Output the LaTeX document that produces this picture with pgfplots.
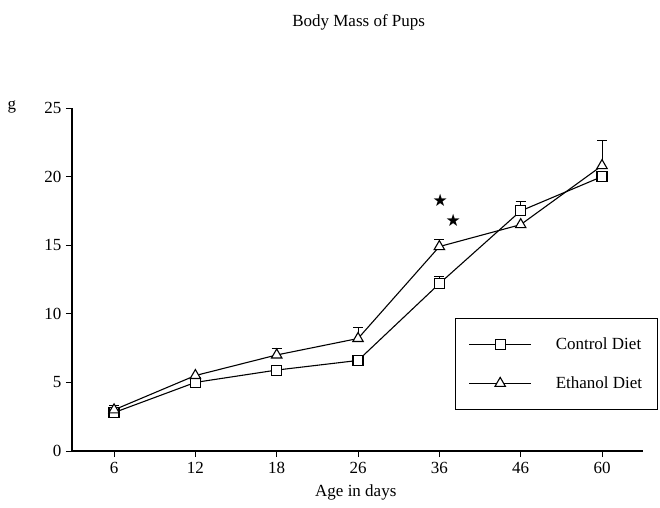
\documentclass[border=0pt]{standalone}
\usepackage{fontspec}
\setmainfont{Liberation Serif}
\newfontfamily\dejavu{DejaVu Sans}
\usepackage{pgfplots}
\pgfplotsset{compat=1.18}

\newcommand{\bigfont}{\fontsize{17}{20}\selectfont}

\begin{document}
\begin{tikzpicture}
\useasboundingbox (-72pt,-56pt) rectangle (588pt,451pt);
\begin{axis}[
    at={(0pt,0pt)}, anchor=south west,
    scale only axis,
    width=571pt, height=343pt,
    axis lines=left,
    axis line style={line width=1.6pt, -},
    xmin=-0.517, xmax=6.504,
    ymin=0, ymax=25,
    xtick={0,1,2,3,4,5,6},
    xticklabels={6,12,18,26,36,46,60},
    ytick={0,5,10,15,20,25},
    tick align=outside,
    major tick length=6pt,
    tick style={line width=1pt, black},
    /pgf/number format/assume math mode=true,
    tick label style={font=\bigfont},
    xticklabel style={yshift=-2pt},
    yticklabel style={xshift=-1pt},
    title={Body Mass of Pups},
    title style={font=\bigfont, at={(axis description cs:0.502,1)}, anchor=center, yshift=80pt},
    xlabel={Age in days},
    xlabel style={font=\bigfont, at={(axis description cs:0.497,0)}, anchor=center, yshift=-41pt},
    ylabel={g},
    ylabel style={font=\bigfont, rotate=-90, at={(axis description cs:0,1)}, anchor=center, xshift=-60pt, yshift=1pt},
    legend style={
        at={(axis description cs:0.671,0.388)}, anchor=north west,
        draw=black, line width=1pt, font=\bigfont,
        inner xsep=13pt, inner ysep=17pt, row sep=22pt,
        column sep=22pt,
        cells={anchor=west},
    },
    legend image code/.code={
        \draw[mark repeat=2, mark phase=2, #1]
            plot coordinates {(0pt,0pt) (31pt,0pt) (62pt,0pt)};
    },
    every axis plot/.append style={line width=1.1pt, black},
    clip=false,
]

% upward error bars (drawn first, so the marks sit on top)
\addplot[draw=none, mark=none, forget plot,
    error bars/.cd, y dir=plus, y explicit,
    error bar style={draw=black, line width=1pt},
    error mark options={rotate=90, mark size=5pt, line width=1pt, draw=black}]
coordinates {
    (4,12.2) +- (0,0.5)
    (5,17.5) +- (0,0.7)
    (0,3.0)  +- (0,0.3)
    (2,7.0)  +- (0,0.5)
    (3,8.2)  +- (0,0.8)
    (4,14.9) +- (0,0.5)
    (6,20.8) +- (0,1.8)
};

% Control diet
\addplot[mark=square*, mark size=5pt, mark options={fill=white, solid}]
coordinates {
    (0,2.8)
    (1,5.0)
    (2,5.9)
    (3,6.6)
    (4,12.2)
    (5,17.5)
    (6,20.0)
};
\addlegendentry{Control Diet}

% Ethanol diet
\addplot[mark=triangle*, mark size=6pt, mark options={fill=white, solid}]
coordinates {
    (0,3.0)
    (1,5.5)
    (2,7.0)
    (3,8.2)
    (4,14.9)
    (5,16.5)
    (6,20.8)
};
\addlegendentry{Ethanol Diet}

% significance stars
\addplot[only marks, mark=text, text mark={\dejavu\fontsize{17}{17}\selectfont ★},
    forget plot]
coordinates {
    (4.01,18.25)
    (4.17,16.8)
};

\end{axis}
\end{tikzpicture}
\end{document}
